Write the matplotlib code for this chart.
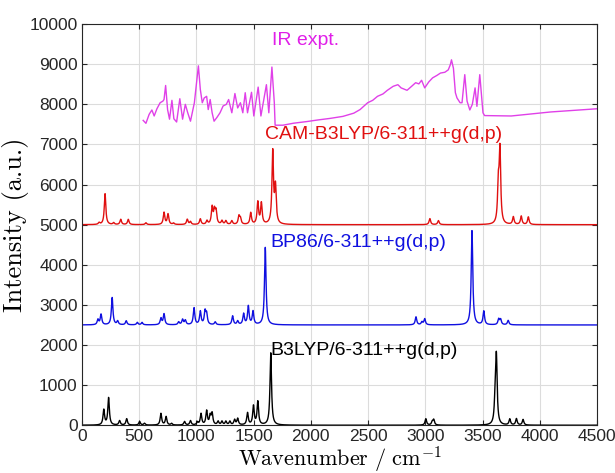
import numpy as np
import matplotlib
matplotlib.use('Agg')
import matplotlib.pyplot as plt

plt.rcParams['font.family'] = ['Liberation Sans', 'DejaVu Sans']
plt.rcParams['mathtext.fontset'] = 'cm'

# Espectros calculados: posições (cm-1) e intensidades dos picos
b3lyp_pos = [192, 234, 330, 392, 505, 547, 691, 736, 784, 897, 949, 1010, 1041, 1090,
             1121, 1138, 1190, 1224, 1258, 1293, 1334, 1361, 1447, 1499, 1537, 1650,
             3004, 3060, 3073, 3610, 3620, 3737, 3795, 3853]
b3lyp_int = [380, 680, 110, 160, 90, 45, 290, 210, 40, 90, 110, 70, 280, 350,
             220, 280, 90, 90, 90, 90, 130, 160, 300, 470, 580, 1800,
             160, 80, 130, 600, 1600, 150, 160, 140]

bp86_pos = [141, 168, 265, 313, 388, 485, 526, 691, 718, 846, 880, 904, 980, 1035,
            1076, 1090, 1165, 1317, 1361, 1413, 1454, 1495, 1602,
            2918, 2970, 2994, 3407, 3510, 3640, 3657, 3723]
bp86_int = [130, 260, 680, 90, 100, 60, 60, 160, 270, 70, 130, 110, 420, 330,
            320, 250, 70, 220, 90, 270, 460, 330, 1930,
            200, 70, 150, 2350, 340, 140, 130, 110]

cam_pos = [151, 203, 278, 340, 406, 560, 718, 753, 801, 921, 949, 1035, 1093, 1138,
           1158, 1172, 1224, 1258, 1310, 1372, 1385, 1475, 1537, 1568, 1667, 1691,
           3039, 3114, 3637, 3651, 3768, 3837, 3899]
cam_int = [45, 770, 45, 130, 130, 45, 300, 260, 35, 130, 70, 140, 90, 420,
           320, 310, 90, 90, 90, 200, 140, 290, 550, 520, 1800, 900,
           150, 100, 900, 1800, 190, 210, 190]

# Espectro experimental (lido ponto a ponto)
expt_x = [536, 560, 588, 612, 632, 656, 684, 708, 718, 732, 749, 766, 787, 804, 828,
          856, 880, 904, 925, 949, 983, 1018, 1035, 1052, 1069, 1090, 1104, 1121, 1138,
          1155, 1179, 1207, 1234, 1262, 1282, 1310, 1337, 1361, 1385, 1406, 1427, 1447,
          1482, 1502, 1540, 1564, 1612, 1633, 1660, 1681, 1688, 1756, 1850, 1963, 2060,
          2169, 2280, 2375, 2430, 2496, 2540, 2582, 2630, 2668, 2719, 2760, 2788, 2840,
          2884, 2915, 2943, 2967, 2994, 3030, 3063, 3100, 3132, 3170, 3200, 3218, 3228,
          3245, 3262, 3276, 3303, 3320, 3344, 3364, 3388, 3410, 3434, 3450, 3475, 3503,
          3517, 3750, 4094, 4500]
expt_y = [7600, 7527, 7750, 7860, 7710, 7890, 8040, 8080, 8120, 8470, 7870, 7630, 8100,
          7640, 7560, 8140, 7630, 8000, 7790, 7580, 8040, 8960, 8370, 8040, 8160, 8200,
          7870, 8120, 7790, 7580, 7670, 7790, 7960, 8000, 8120, 7790, 8270, 7910, 8040,
          7790, 8290, 7790, 8300, 7710, 8430, 7710, 8490, 7790, 8930, 8040, 7480, 7480,
          7530, 7570, 7610, 7650, 7700, 7780, 7870, 8040, 8100, 8200, 8260, 8350, 8450,
          8490, 8410, 8350, 8460, 8540, 8510, 8600, 8410, 8560, 8660, 8720, 8780, 8800,
          8860, 8990, 9110, 8900, 8290, 8160, 8040, 8040, 8740, 8080, 7860, 8000, 8410,
          7950, 8740, 7790, 7720, 7710, 7810, 7890]


def lorentz(x, pos, inten, w=8.0):
  # soma de lorentzianas com meia largura w
  y = np.zeros_like(x)
  for p, h in zip(pos, inten):
    y += h * w**2 / ((x - p)**2 + w**2)
  return y


x = np.linspace(0, 4500, 9001)

fig = plt.figure(figsize=(6.15, 4.73), dpi=100)
ax = fig.add_axes([0.133, 0.101, 0.838, 0.848])

ax.plot(x, lorentz(x, b3lyp_pos, b3lyp_int), color='black', lw=1.0)
ax.plot(x, 2500 + lorentz(x, bp86_pos, bp86_int), color='#1010e0', lw=1.0)
ax.plot(x, 5000 + lorentz(x, cam_pos, cam_int), color='#e01010', lw=1.0)
ax.plot(expt_x, expt_y, color='#e040e8', lw=1.0)

ax.text(1660, 9600, 'IR expt.', color='#e020e8', fontsize=14, va='center')
ax.text(1600, 7250, 'CAM-B3LYP/6-311++g(d,p)', color='#e01010', fontsize=14, va='center')
ax.text(1650, 4550, 'BP86/6-311++g(d,p)', color='#1010e0', fontsize=14, va='center')
ax.text(1650, 1870, 'B3LYP/6-311++g(d,p)', color='black', fontsize=14, va='center')

ax.set_xlim(0, 4500)
ax.set_ylim(0, 10000)
ax.set_xticks(np.arange(0, 4501, 500))
ax.set_yticks(np.arange(0, 10001, 1000))
ax.tick_params(direction='in', top=True, right=True, labelsize=12.5, pad=3, colors='#262626')
ax.grid(True, color='#dcdcdc', lw=0.8)
ax.set_axisbelow(True)
for s in ax.spines.values():
  s.set_color('#262626')
  s.set_linewidth(0.8)

ax.set_xlabel(r'$\mathrm{Wavenumber\ /\ cm^{-1}}$', fontsize=16, labelpad=0)
ax.set_ylabel('Intensity (a.u.)', family='cmr10', fontsize=19, labelpad=0)

plt.savefig('out.png', dpi=100)
